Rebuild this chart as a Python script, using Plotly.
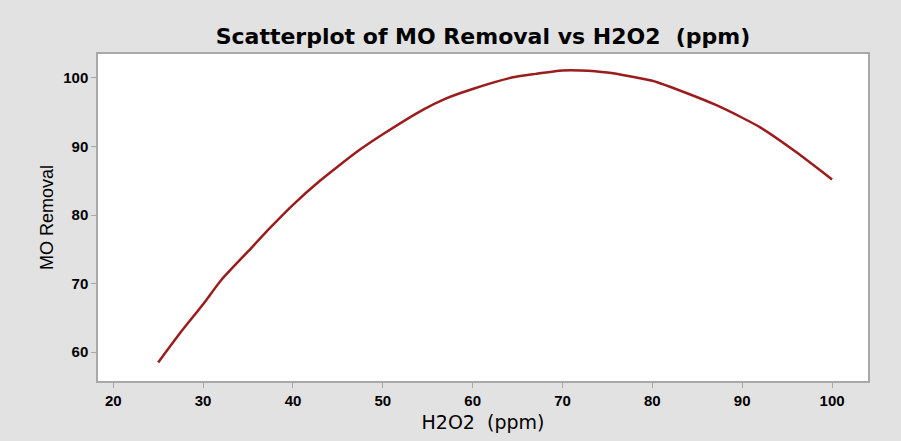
import plotly.graph_objects as go

# Data
h2o2_ppm = [25, 27.5, 30, 32, 35, 37.5, 40, 43, 45, 47.5, 50, 54.5, 57, 60, 64.5, 67, 70, 72, 75, 80, 84, 87, 90, 92, 96, 100]
mo_removal = [58.5, 62.9, 67.0, 70.5, 74.7, 78.2, 81.5, 85.0, 87.1, 89.6, 91.8, 95.4, 97.0, 98.4, 100.1, 100.6, 101.1, 101.1, 100.8, 99.6, 97.7, 96.1, 94.2, 92.8, 89.2, 85.2]

x_ticks = [20, 30, 40, 50, 60, 70, 80, 90, 100]
y_ticks = [60, 70, 80, 90, 100]

fig = go.Figure()
fig.add_trace(go.Scatter(
    x=h2o2_ppm, y=mo_removal, mode="lines",
    line=dict(color="#9b1c1c", width=2.5, shape="spline", smoothing=0.6),
    showlegend=False,
))

tickfont = dict(family="Liberation Sans", size=15, color="black")
fig.update_layout(
    width=901, height=441,
    paper_bgcolor="#e2e2e2",
    plot_bgcolor="white",
    margin=dict(l=98, r=33, t=54, b=60),
    title=dict(
        text="<b>Scatterplot of MO Removal vs H2O2  (ppm)</b>",
        x=0.5, xref="paper", y=0.918, yref="container", yanchor="middle",
        font=dict(family="DejaVu Sans", size=22, color="black"),
    ),
    xaxis=dict(
        range=[18.3, 104], tickvals=x_ticks, ticktext=[f"<b>{v}</b>" for v in x_ticks],
        showgrid=False, zeroline=False,
        showline=True, mirror=True, linecolor="#a8a8a8", linewidth=1.5,
        ticks="outside", ticklen=5, tickcolor="#a8a8a8",
        tickfont=tickfont,
        title=dict(text="H2O2  (ppm)", font=dict(family="DejaVu Sans", size=19, color="black"), standoff=8),
    ),
    yaxis=dict(
        range=[55.8, 103.5], tickvals=y_ticks, ticktext=[f"<b>{v}</b>" for v in y_ticks],
        showgrid=False, zeroline=False,
        showline=True, mirror=True, linecolor="#a8a8a8", linewidth=1.5,
        ticks="outside", ticklen=5, tickcolor="#a8a8a8",
        tickfont=tickfont,
        title=dict(text="MO Removal", font=dict(family="Liberation Sans", size=18, color="black"), standoff=5),
    ),
)

fig.write_html(
    "out.html",
    config={"displayModeBar": False},
    post_script="document.body.style.margin='0';document.body.style.overflow='hidden';",
)
